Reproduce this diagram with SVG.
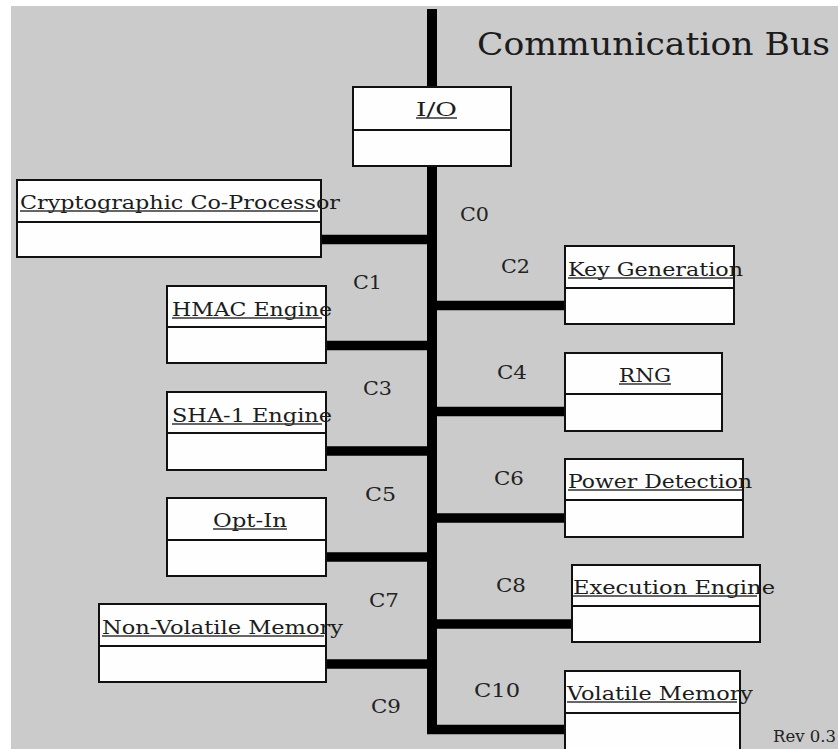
<svg xmlns="http://www.w3.org/2000/svg" width="838" height="749" viewBox="0 0 838 749">
<style>
.box{fill:#fefefe;stroke:#111;stroke-width:2}
.div{stroke:#111;stroke-width:2}
.t{font-family:"DejaVu Serif","Liberation Serif",serif;font-size:19px;fill:#1c1c1c}
.ul{stroke:#333;stroke-width:1.5}
.lbl{font-family:"DejaVu Serif","Liberation Serif",serif;font-size:18px;fill:#222}
.bus{stroke:#000;stroke-width:10;fill:none}
.con{stroke:#000;stroke-width:9.5;fill:none}
</style>
<rect x="0" y="0" width="838" height="749" fill="#ffffff"/>
<rect x="11" y="6" width="827" height="743" fill="#cbcbcb"/>
<text x="477" y="55" font-family="DejaVu Serif, Liberation Serif, serif" font-size="32" fill="#1c1c1c" textLength="353" lengthAdjust="spacingAndGlyphs">Communication Bus</text>
<g id="connectors">
<line class="bus" x1="432" y1="9" x2="432" y2="734"/>
<line class="con" x1="322" y1="239.5" x2="432" y2="239.5"/>
<line class="con" x1="432" y1="305.5" x2="564" y2="305.5"/>
<line class="con" x1="327" y1="345.5" x2="432" y2="345.5"/>
<line class="con" x1="432" y1="411.5" x2="564" y2="411.5"/>
<line class="con" x1="327" y1="451" x2="432" y2="451"/>
<line class="con" x1="432" y1="518" x2="564" y2="518"/>
<line class="con" x1="327" y1="557" x2="432" y2="557"/>
<line class="con" x1="432" y1="624" x2="571" y2="624"/>
<line class="con" x1="327" y1="664" x2="432" y2="664"/>
<line class="con" x1="427" y1="729.5" x2="564" y2="729.5"/>
<text class="lbl" x="460" y="221" textLength="29" lengthAdjust="spacingAndGlyphs">C0</text>
<text class="lbl" x="353" y="289" textLength="29" lengthAdjust="spacingAndGlyphs">C1</text>
<text class="lbl" x="501" y="273" textLength="29" lengthAdjust="spacingAndGlyphs">C2</text>
<text class="lbl" x="363" y="395" textLength="29" lengthAdjust="spacingAndGlyphs">C3</text>
<text class="lbl" x="497" y="379" textLength="30" lengthAdjust="spacingAndGlyphs">C4</text>
<text class="lbl" x="365" y="501" textLength="31" lengthAdjust="spacingAndGlyphs">C5</text>
<text class="lbl" x="494" y="485" textLength="30" lengthAdjust="spacingAndGlyphs">C6</text>
<text class="lbl" x="369" y="607" textLength="30" lengthAdjust="spacingAndGlyphs">C7</text>
<text class="lbl" x="496" y="592" textLength="30" lengthAdjust="spacingAndGlyphs">C8</text>
<text class="lbl" x="371" y="713" textLength="30" lengthAdjust="spacingAndGlyphs">C9</text>
<text class="lbl" x="474" y="697" textLength="46" lengthAdjust="spacingAndGlyphs">C10</text>
</g>
<g id="io">
<rect class="box" x="353" y="87" width="158" height="79"/>
<line class="div" x1="353" y1="130" x2="511" y2="130"/>
<text class="t" x="416" y="116" textLength="41" lengthAdjust="spacingAndGlyphs">I/O</text>
<line class="ul" x1="416" y1="118" x2="457" y2="118"/>
</g>
<g id="crypto">
<rect class="box" x="17" y="180" width="304" height="77"/>
<line class="div" x1="17" y1="222" x2="321" y2="222"/>
<text class="t" x="20" y="209" textLength="320" lengthAdjust="spacingAndGlyphs">Cryptographic Co-Processor</text>
<line class="ul" x1="20" y1="211" x2="318" y2="211"/>
</g>
<g id="hmac">
<rect class="box" x="167" y="286" width="159" height="77"/>
<line class="div" x1="167" y1="327" x2="326" y2="327"/>
<text class="t" x="172" y="316" textLength="160" lengthAdjust="spacingAndGlyphs">HMAC Engine</text>
<line class="ul" x1="172" y1="318" x2="322" y2="318"/>
</g>
<g id="sha1">
<rect class="box" x="167" y="392" width="159" height="78"/>
<line class="div" x1="167" y1="433" x2="326" y2="433"/>
<text class="t" x="172" y="422" textLength="160" lengthAdjust="spacingAndGlyphs">SHA-1 Engine</text>
<line class="ul" x1="172" y1="424" x2="322" y2="424"/>
</g>
<g id="optin">
<rect class="box" x="167" y="498" width="159" height="78"/>
<line class="div" x1="167" y1="540" x2="326" y2="540"/>
<text class="t" x="213" y="527" textLength="74" lengthAdjust="spacingAndGlyphs">Opt-In</text>
<line class="ul" x1="213" y1="529" x2="287" y2="529"/>
</g>
<g id="nvm">
<rect class="box" x="99" y="604" width="227" height="78"/>
<line class="div" x1="99" y1="646" x2="326" y2="646"/>
<text class="t" x="102" y="634" textLength="241" lengthAdjust="spacingAndGlyphs">Non-Volatile Memory</text>
<line class="ul" x1="102" y1="636" x2="324" y2="636"/>
</g>
<g id="keygen">
<rect class="box" x="565" y="246" width="169" height="78"/>
<line class="div" x1="565" y1="288" x2="734" y2="288"/>
<text class="t" x="568" y="276" textLength="175" lengthAdjust="spacingAndGlyphs">Key Generation</text>
<line class="ul" x1="568" y1="278" x2="733" y2="278"/>
</g>
<g id="rng">
<rect class="box" x="565" y="353" width="157" height="78"/>
<line class="div" x1="565" y1="394" x2="722" y2="394"/>
<text class="t" x="619" y="382" textLength="52" lengthAdjust="spacingAndGlyphs">RNG</text>
<line class="ul" x1="619" y1="384" x2="671" y2="384"/>
</g>
<g id="power">
<rect class="box" x="565" y="459" width="178" height="78"/>
<line class="div" x1="565" y1="500" x2="743" y2="500"/>
<text class="t" x="568" y="488" textLength="184" lengthAdjust="spacingAndGlyphs">Power Detection</text>
<line class="ul" x1="568" y1="490" x2="742" y2="490"/>
</g>
<g id="exec">
<rect class="box" x="572" y="565" width="188" height="77"/>
<line class="div" x1="572" y1="606" x2="760" y2="606"/>
<text class="t" x="573" y="594" textLength="202" lengthAdjust="spacingAndGlyphs">Execution Engine</text>
<line class="ul" x1="573" y1="596" x2="757" y2="596"/>
</g>
<g id="volatile">
<rect class="box" x="565" y="671" width="175" height="80"/>
<line class="div" x1="565" y1="713" x2="740" y2="713"/>
<text class="t" x="567" y="700" textLength="186" lengthAdjust="spacingAndGlyphs">Volatile Memory</text>
<line class="ul" x1="567" y1="702" x2="737" y2="702"/>
</g>
<text x="773" y="742" font-family="DejaVu Serif, Liberation Serif, serif" font-size="16" fill="#222" textLength="63" lengthAdjust="spacingAndGlyphs">Rev 0.3</text>
</svg>
